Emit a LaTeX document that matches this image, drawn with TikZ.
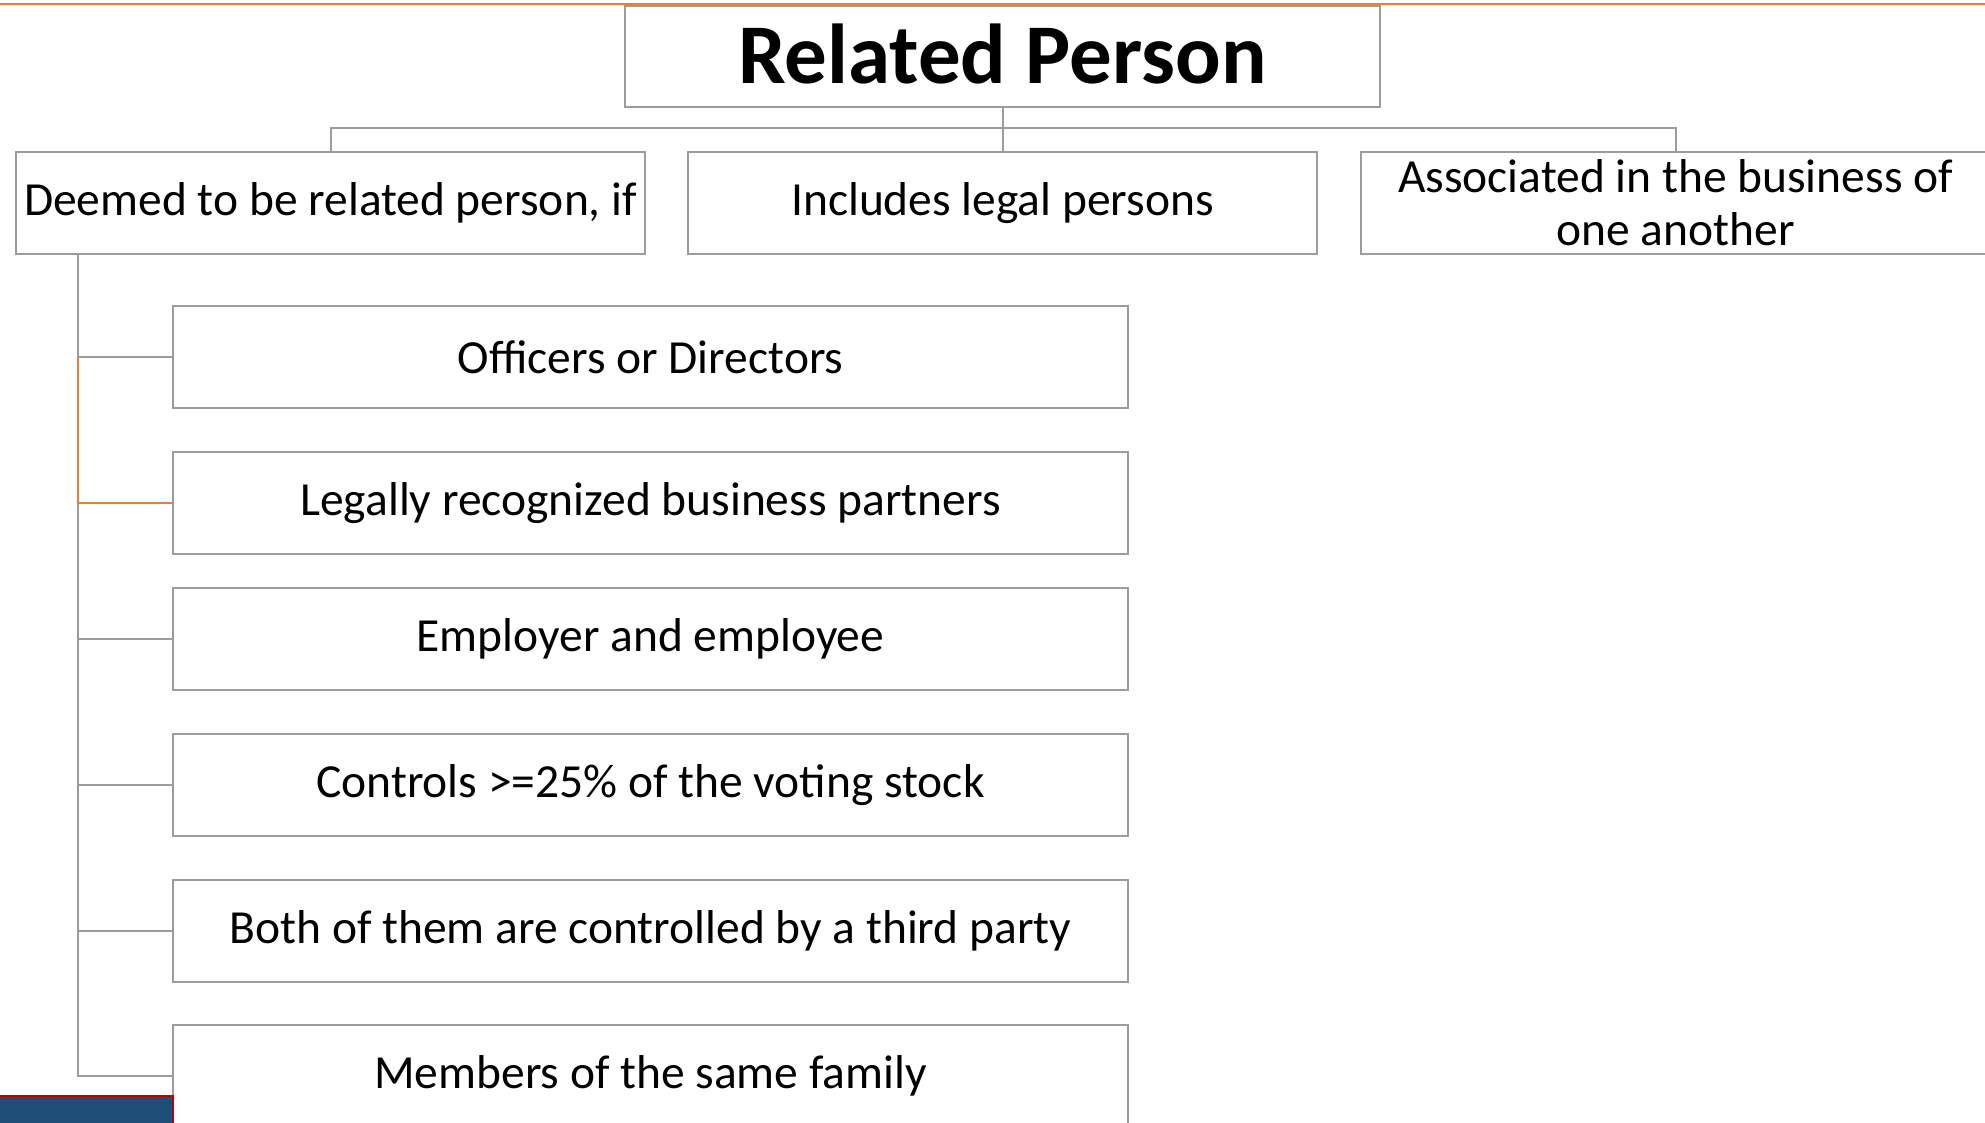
\documentclass[tikz,border=0pt]{standalone}
\usepackage{fontspec}
\setmainfont{Carlito}
\definecolor{linegray}{HTML}{9C9C9C}
\definecolor{accent}{HTML}{ED7D31}
\definecolor{navy}{HTML}{1F4E79}
\definecolor{darkred}{HTML}{C00000}
\begin{document}
\begin{tikzpicture}[x=1pt,y=-1pt,
  box/.style={draw=linegray,line width=2pt,fill=white,anchor=north west,
    minimum height=102pt,inner sep=0pt,align=center,
    font=\fontsize{47.5}{53}\selectfont},
  topbox/.style={box,minimum width=629pt},
  itembox/.style={box,minimum width=955pt},
  link/.style={draw=linegray,line width=2pt},
  hot/.style={draw=accent,line width=2.4pt}]
\useasboundingbox (0,0) rectangle (1985,1122);
\clip (0,0) rectangle (1985,1122);

% rule along the top edge
\draw[accent,line width=1.6pt] (0,4) -- (1985,4);

% heading
\node[draw=linegray,line width=2pt,anchor=north west,minimum width=755pt,
  minimum height=101pt,inner sep=0pt,
  font=\fontsize{85}{95}\selectfont\bfseries] (title) at (624,5)
  {\raisebox{5pt}{Related Person}};

% first level
\node[topbox] (deemed) at (15,151) {Deemed to be related person, if};
\node[topbox] (incl) at (687,151) {Includes legal persons};
\node[topbox] (assoc) at (1360,151) {Associated in the business of\\one another};

\coordinate (bar) at (1001,128);
\draw[link] (title.south) -- (incl.north);
\draw[link] (deemed.north) |- (bar) -| (assoc.north);

% second level
\node[itembox] (off) at (172,305) {Officers or Directors};
\node[itembox] (legal) at (172,451) {Legally recognized business partners};
\node[itembox] (emp) at (172,587) {Employer and employee};
\node[itembox] (ctrl) at (172,733) {Controls >=25\% of the voting stock};
\node[itembox] (third) at (172,879) {Both of them are controlled by a third party};
\node[itembox] (fam) at (172,1024) {Members of the same family};

\coordinate (trunk) at (78,253);
\draw[link] (trunk) |- (fam.west);
\foreach \n in {off,emp,ctrl,third,fam}
  \draw[link] (trunk |- \n.west) -- (\n.west);
\draw[hot] (trunk |- off.west) |- (legal.west);

% corner band
\fill[navy] (0,1096) rectangle (173,1130);
\draw[darkred,line width=1.2pt] (0,1096) -- (173,1096) -- (173,1130);
\end{tikzpicture}
\end{document}
